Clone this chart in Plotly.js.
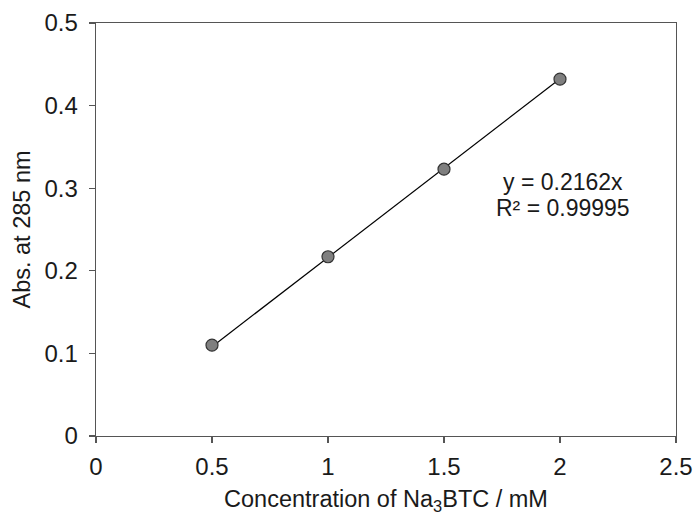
<!DOCTYPE html>
<html>
<head>
<meta charset="utf-8">
<script src="https://cdn.plot.ly/plotly-3.0.1.min.js"></script>
<style>html,body{margin:0;padding:0;background:#fff;}</style>
</head>
<body>
<div id="chart" style="width:697px;height:516px;"></div>
<script>
const concentration = [0.5, 1.0, 1.5, 2.0];
const absorbance = [0.110, 0.217, 0.323, 0.432];
const fitSlope = 0.2162;
const fitX = [0.5, 2.0];
const fitY = fitX.map(x => fitSlope * x);
const xTicks = [0, 0.5, 1, 1.5, 2, 2.5];
const xTickText = ['0', '0.5', '1', '1.5', '2', '2.5'];
const yTicks = [0, 0.1, 0.2, 0.3, 0.4, 0.5];
const yTickText = ['0', '0.1', '0.2', '0.3', '0.4', '0.5'];
const eqLines = ['y = 0.2162x', 'R² = 0.99995'];

const fontFam = 'Liberation Sans, Arial, sans-serif';
const data = [
  {x: fitX, y: fitY, mode: 'lines', line: {color: '#000', width: 1.2}, hoverinfo: 'skip', showlegend: false},
  {x: concentration, y: absorbance, mode: 'markers',
   marker: {size: 12, color: '#7f7f7f', line: {color: '#333', width: 1.2}}, showlegend: false}
];
const layout = {
  width: 697, height: 516,
  margin: {l: 96, r: 21, t: 23, b: 80},
  paper_bgcolor: '#fff', plot_bgcolor: '#fff',
  font: {family: fontFam, color: '#1a1a1a', size: 23},
  xaxis: {
    range: [0, 2.5], tickvals: xTicks, ticktext: xTickText,
    showgrid: false, zeroline: false, showline: true, linecolor: '#555', linewidth: 1.3,
    mirror: true, ticks: 'outside', ticklen: 6, tickcolor: '#555', tickwidth: 1.3,
    tickfont: {size: 24}, ticklabelstandoff: 3,
    title: {text: 'Concentration of Na<sub>3</sub>BTC / mM', font: {size: 23.5}, standoff: 11}
  },
  yaxis: {
    range: [0, 0.5], tickvals: yTicks, ticktext: yTickText,
    showgrid: false, zeroline: false, showline: true, linecolor: '#555', linewidth: 1.3,
    mirror: true, ticks: 'outside', ticklen: 6, tickcolor: '#555', tickwidth: 1.3,
    tickfont: {size: 24}, ticklabelstandoff: 6,
    title: {text: 'Abs. at 285 nm', font: {size: 23.5}, standoff: 7}
  },
  annotations: [
    {x: 2.013, y: 0.307, xref: 'x', yref: 'y', text: eqLines[0],
     showarrow: false, font: {size: 23}, xanchor: 'center', yanchor: 'middle'},
    {x: 2.013, y: 0.276, xref: 'x', yref: 'y', text: eqLines[1],
     showarrow: false, font: {size: 23}, xanchor: 'center', yanchor: 'middle'}
  ]
};
Plotly.newPlot('chart', data, layout, {displayModeBar: false, staticPlot: true});
</script>
</body>
</html>
